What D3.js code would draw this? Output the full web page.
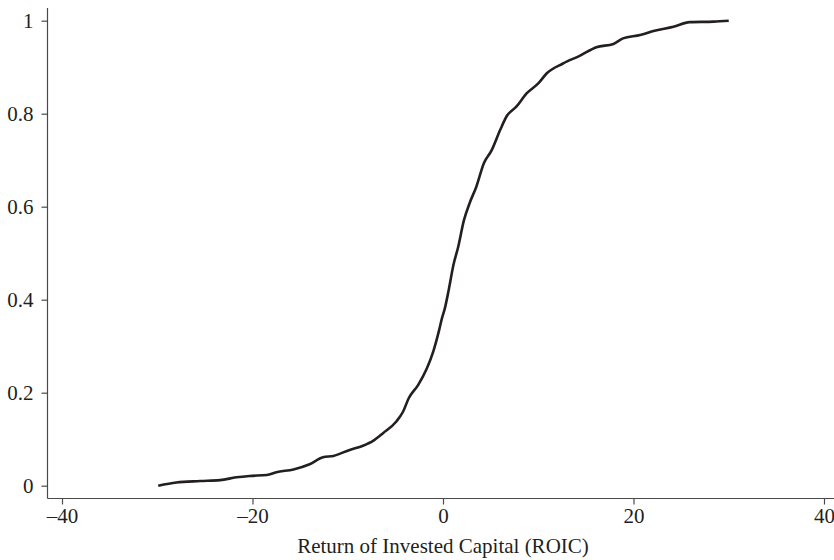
<!DOCTYPE html>
<html>
<head>
<meta charset="utf-8">
<script src="https://cdn.jsdelivr.net/npm/d3@7"></script>
<style>
  html, body { margin: 0; padding: 0; background: #fff; }
  svg { display: block; }
  text { font-family: "Liberation Serif", "Times New Roman", serif; fill: #231f20; }
</style>
</head>
<body>
<svg id="chart" width="834" height="560"></svg>
<script>
// Cumulative distribution of ROIC (%): value and share of firms at or below it
const roicValues = [
  -29.9, -28.0, -25.5, -23.4, -21.7, -20.3, -18.5, -17.5, -15.7, -14.0,
  -12.6, -11.5, -9.8, -8.4, -7.3, -6.3, -4.9, -4.2, -3.6, -2.6,
  -1.7, -1.0, -0.4, -0.1, 0.2, 0.6, 1.1, 1.6, 2.2, 2.8,
  3.5, 4.3, 5.1, 6.0, 6.7, 7.7, 8.8, 10.0, 10.9, 12.6,
  14.4, 16.1, 17.9, 18.9, 20.7, 22.1, 24.2, 25.9, 28.4, 30.0
];
const cumShare = [
  0.000, 0.007, 0.010, 0.012, 0.018, 0.021, 0.023, 0.029, 0.035, 0.046,
  0.061, 0.064, 0.077, 0.086, 0.097, 0.113, 0.138, 0.159, 0.188, 0.217,
  0.252, 0.290, 0.335, 0.361, 0.382, 0.421, 0.475, 0.514, 0.571, 0.608,
  0.643, 0.694, 0.721, 0.765, 0.795, 0.815, 0.844, 0.865, 0.887, 0.908,
  0.925, 0.943, 0.950, 0.962, 0.969, 0.978, 0.987, 0.997, 0.998, 1.000
];

const xTicks = [-40, -20, 0, 20, 40];
const xTickLabels = ["\u201340", "\u201320", "0", "20", "40"];
const yTicks = [0, 0.2, 0.4, 0.6, 0.8, 1];
const yTickLabels = ["0", "0.2", "0.4", "0.6", "0.8", "1"];
const xTitle = "Return of Invested Capital (ROIC)";

const svg = d3.select("#chart");
const axisColor = "#4a4a4a";
const inkColor = "#231f20";
const fontSize = 21;
const axisX0 = 47.5;   // vertical axis position
const axisY0 = 498.5;  // horizontal axis position

const x = d3.scaleLinear().domain([-40, 40]).range([62, 824]);
const y = d3.scaleLinear().domain([0, 1]).range([485.7, 20.7]);

// Axis lines
svg.append("line")
  .attr("x1", axisX0).attr("x2", axisX0)
  .attr("y1", 8).attr("y2", axisY0)
  .attr("stroke", axisColor).attr("stroke-width", 1.2);
svg.append("line")
  .attr("x1", axisX0).attr("x2", 834)
  .attr("y1", axisY0).attr("y2", axisY0)
  .attr("stroke", axisColor).attr("stroke-width", 1.2);

// Y axis ticks and labels
const yAxis = d3.axisLeft(y)
  .tickValues(yTicks)
  .tickSize(6)
  .tickPadding(8)
  .tickFormat((d, i) => yTickLabels[i]);
const gy = svg.append("g").attr("transform", `translate(${axisX0},0)`).call(yAxis);
gy.select(".domain").remove();
gy.selectAll(".tick line").attr("stroke", axisColor).attr("stroke-width", 1.2);
gy.selectAll(".tick text")
  .attr("font-family", "Liberation Serif, serif")
  .attr("font-size", fontSize)
  .attr("fill", inkColor);

// X axis ticks and labels
const xAxis = d3.axisBottom(x)
  .tickValues(xTicks)
  .tickSize(6)
  .tickPadding(4)
  .tickFormat((d, i) => xTickLabels[i]);
const gx = svg.append("g").attr("transform", `translate(0,${axisY0})`).call(xAxis);
gx.select(".domain").remove();
gx.selectAll(".tick line").attr("stroke", axisColor).attr("stroke-width", 1.2);
gx.selectAll(".tick text")
  .attr("font-family", "Liberation Serif, serif")
  .attr("font-size", fontSize)
  .attr("fill", inkColor);

// Axis title
svg.append("text")
  .attr("x", 443)
  .attr("y", 553)
  .attr("text-anchor", "middle")
  .attr("font-size", fontSize)
  .text(xTitle);

// Cumulative distribution curve
const points = roicValues.map((v, i) => [v, cumShare[i]]);
const line = d3.line()
  .x(d => x(d[0]))
  .y(d => y(d[1]))
  .curve(d3.curveMonotoneX);

svg.append("path")
  .datum(points)
  .attr("fill", "none")
  .attr("stroke", inkColor)
  .attr("stroke-width", 2.6)
  .attr("stroke-linejoin", "round")
  .attr("stroke-linecap", "butt")
  .attr("d", line);
</script>
</body>
</html>
